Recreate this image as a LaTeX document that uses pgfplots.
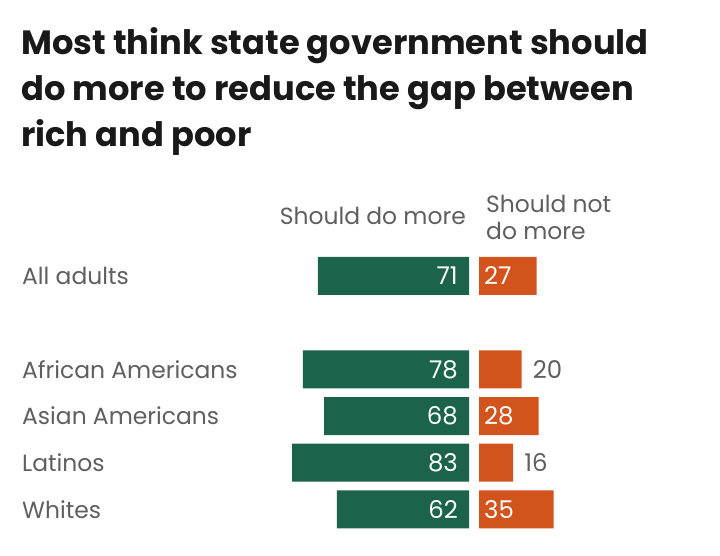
\documentclass[border=0pt]{standalone}
\usepackage{pgfplots}
\pgfplotsset{compat=1.18}
\usepackage{fontspec}
\setmainfont{Poppins}
\definecolor{grn}{RGB}{28,99,76}
\definecolor{org}{RGB}{210,84,28}
\definecolor{txt}{RGB}{95,95,95}
\definecolor{ttl}{RGB}{25,25,25}
\begin{document}
\begin{tikzpicture}[x=1bp,y=1bp]
\path (0,0) rectangle (720,556);
% title
\node[anchor=base west, inner sep=0pt, text=ttl, font=\fontsize{33.8}{46}\selectfont\bfseries] at (21,{556-55}) {Most think state government should};
\node[anchor=base west, inner sep=0pt, text=ttl, font=\fontsize{33.8}{46}\selectfont\bfseries] at (21,{556-101}) {do more to reduce the gap between};
\node[anchor=base west, inner sep=0pt, text=ttl, font=\fontsize{33.8}{46}\selectfont\bfseries] at (21,{556-147}) {rich and poor};
% column headers
\node[anchor=base east, inner sep=0pt, text=txt, font=\fontsize{23.5}{26}\selectfont] at (466,{556-225}) {Should do more};
\node[anchor=base west, inner sep=0pt, text=txt, font=\fontsize{23.5}{26}\selectfont] at (486,{556-213}) {Should not};
\node[anchor=base west, inner sep=0pt, text=txt, font=\fontsize{23.5}{26}\selectfont] at (486,{556-240}) {do more};
% green axis
\begin{axis}[
  at={(256bp,23.33bp)}, anchor=south west,
  scale only axis, width=213bp, height=280bp,
  xmin=0, xmax=100, x dir=reverse,
  ymin=-0.5, ymax=5.5, y dir=reverse,
  axis line style={draw=none}, tick style={draw=none},
  xtick=\empty,
  ytick={0,2,3,4,5},
  yticklabels={All adults, African Americans, Asian Americans, Latinos, Whites},
  yticklabel style={anchor=west, inner sep=0pt, xshift=-234bp, text=txt, font=\fontsize{23.5}{26}\selectfont},
  clip=false,
]
\addplot[xbar, bar width=38bp, bar shift=0pt, fill=grn, draw=none] coordinates {(71,0) (78,2) (68,3) (83,4) (62,5)};
\addplot[only marks, mark=none, point meta=explicit symbolic, nodes near coords,
  nodes near coords style={anchor=east, inner sep=0pt, xshift=-11bp, text=white, font=\fontsize{24.5}{26}\selectfont}]
  coordinates {(0,0) [71] (0,2) [78] (0,3) [68] (0,4) [83] (0,5) [62]};
\end{axis}
% orange axis
\begin{axis}[
  at={(479bp,23.33bp)}, anchor=south west,
  scale only axis, width=213bp, height=280bp,
  xmin=0, xmax=100,
  ymin=-0.5, ymax=5.5, y dir=reverse,
  axis line style={draw=none}, tick style={draw=none},
  xtick=\empty, ytick=\empty,
  clip=false,
]
\addplot[xbar, bar width=38bp, bar shift=0pt, fill=org, draw=none] coordinates {(27,0) (20,2) (28,3) (16,4) (35,5)};
\addplot[only marks, mark=none, point meta=explicit symbolic, nodes near coords,
  nodes near coords style={anchor=west, inner sep=0pt, xshift=5bp, text=white, font=\fontsize{24.5}{26}\selectfont}]
  coordinates {(0,0) [27] (0,3) [28] (0,5) [35]};
\addplot[only marks, mark=none, point meta=explicit symbolic, nodes near coords,
  nodes near coords style={anchor=west, inner sep=0pt, xshift=11bp, text=txt, font=\fontsize{24.5}{26}\selectfont}]
  coordinates {(20,2) [20] (16,4) [16]};
\end{axis}
\end{tikzpicture}
\end{document}
